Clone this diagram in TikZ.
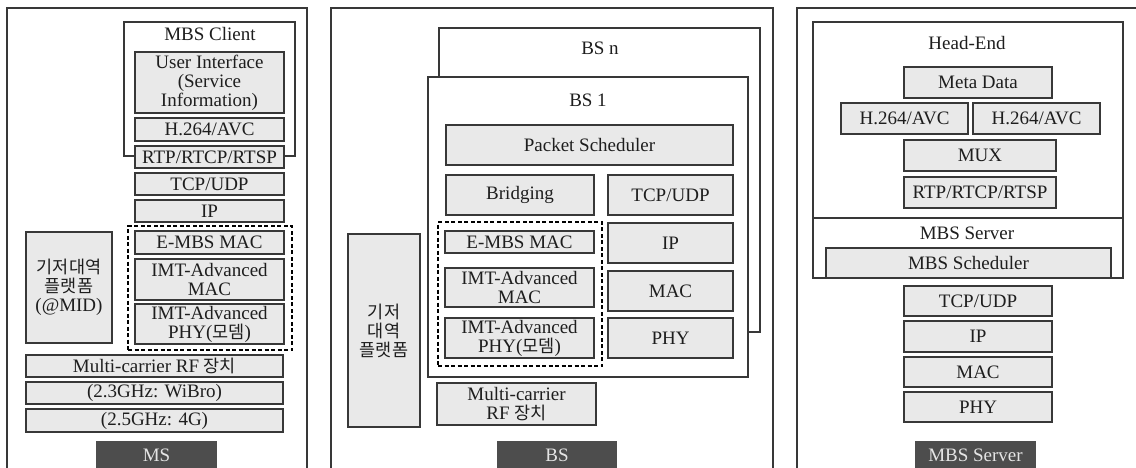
\documentclass[tikz,border=0pt]{standalone}
\usepackage{fontspec}
\setmainfont{Liberation Serif}
\newfontfamily\kr[Scale=0.92]{Noto Sans CJK KR}
\definecolor{cellfill}{HTML}{E9E9E9}
\definecolor{edge}{HTML}{383838}
\definecolor{tagfill}{HTML}{4D4D4D}
\definecolor{tagtext}{HTML}{E4E4E4}
\definecolor{ink}{HTML}{1E1E1E}
% a box given by its two corners (x1,y1) (x2,y2), in pixel units
\newcommand\cell[7][]{\node[cellbox,#1,minimum width={(#5)-(#3)},minimum height={(#6)-(#4)}] (#2) at ({((#3)+(#5))/2},{((#4)+(#6))/2}) {#7};}
\begin{document}
\begin{tikzpicture}[x=1pt,y=-1pt,
  every node/.style={font=\fontsize{19}{19}\selectfont,text=ink},
  cellbox/.style={draw=edge,fill=cellfill,line width=1.2pt,inner sep=0pt,align=center},
  framebox/.style={draw=edge,fill=white,line width=1.2pt,inner sep=0pt},
  panel/.style={draw=edge,line width=1.3pt},
  group/.style={draw=black,line width=2.4pt,dash pattern=on 4pt off 2.5pt},
  tag/.style={fill=tagfill,inner sep=0pt,text=tagtext},
  title/.style={inner sep=0pt}]
\useasboundingbox (0,0) rectangle (1136,467);

% ---------------- MS ----------------
\draw[panel] (7,470) -- (7,8) -- (307,8) -- (307,470);
\cell[framebox]{client}{124}{22}{295}{156}{}
\node[title] (clientT) at (210,34) {MBS Client};
\cell{ui}{135}{52}{284}{113}{User Interface\\(Service\\Information)}
\cell{h264a}{135}{118}{284}{141}{H.264/AVC}
\cell{rtpa}{135}{146}{284}{168}{RTP/RTCP/RTSP}
\cell{tcpa}{135}{173}{284}{195}{TCP/UDP}
\cell{ipa}{135}{200}{284}{222}{IP}
\cell[group,fill=none]{grpa}{128}{226}{292}{350}{}
\cell{emaca}{135}{231}{284}{254}{E-MBS MAC}
\cell{imaca}{135}{259}{284}{300}{IMT-Advanced\\MAC}
\cell{iphya}{135}{304}{284}{344}{IMT-Advanced\\PHY({\kr 모뎀})}
\cell{basea}{26}{232}{112}{343}{{\kr 기저대역}\\{\kr 플랫폼}\\(@MID)}
\cell{rfa}{26}{355}{283}{377}{Multi-carrier RF {\kr 장치}}
\cell{wibro}{26}{382}{283}{404}{(2.3GHz: WiBro)}
\cell{fourg}{26}{409}{283}{432}{(2.5GHz: 4G)}
\cell[tag,draw=none]{tagms}{96}{441}{217}{470}{MS}

% ---------------- BS ----------------
\draw[panel] (331,470) -- (331,8) -- (773,8) -- (773,470);
\cell[framebox]{bsn}{439}{28}{760}{332}{}
\node[title] (bsnT) at (600,48) {BS n};
\cell[framebox]{bsone}{428}{77}{748}{377}{}
\node[title] (bsoneT) at (588,100) {BS 1};
\cell{psch}{446}{125}{733}{165}{Packet Scheduler}
\cell{bridge}{446}{175}{594}{215}{Bridging}
\cell{tcpb}{608}{175}{733}{215}{TCP/UDP}
\cell[group,fill=none]{grpb}{438}{222}{602}{366}{}
\cell{emacb}{445}{231}{594}{253}{E-MBS MAC}
\cell{imacb}{445}{268}{594}{307}{IMT-Advanced\\MAC}
\cell{iphyb}{445}{318}{594}{358}{IMT-Advanced\\PHY({\kr 모뎀})}
\cell{ipb}{608}{223}{733}{263}{IP}
\cell{macb}{608}{271}{733}{311}{MAC}
\cell{phyb}{608}{318}{733}{358}{PHY}
\cell{baseb}{348}{234}{420}{427}{{\kr 기저}\\{\kr 대역}\\{\kr 플랫폼}}
\cell{rfb}{437}{383}{596}{425}{Multi-carrier\\RF {\kr 장치}}
\cell[tag,draw=none]{tagbs}{497}{441}{617}{470}{BS}

% ---------------- MBS Server ----------------
\draw[panel] (797,470) -- (797,8) -- (1140,8);
\cell[framebox]{headend}{813}{22}{1123}{278}{}
\draw[edge,line width=1.2pt] (headend.west |- 0,218) -- (headend.east |- 0,218);
\node[title] (headT) at (967,43) {Head-End};
\cell{meta}{904}{67}{1052}{98}{Meta Data}
\cell{h264b}{841}{103}{968}{134}{H.264/AVC}
\cell{h264c}{973}{103}{1100}{134}{H.264/AVC}
\cell{mux}{904}{140}{1056}{171}{MUX}
\cell{rtpc}{904}{177}{1056}{208}{RTP/RTCP/RTSP}
\node[title] (srvT) at (967,233) {MBS Server};
\cell{msch}{826}{248}{1111}{278}{MBS Scheduler}
\cell{tcpc}{904}{286}{1052}{316}{TCP/UDP}
\cell{ipc}{904}{321}{1052}{352}{IP}
\cell{macc}{904}{357}{1052}{387}{MAC}
\cell{phyc}{904}{392}{1052}{422}{PHY}
\cell[tag,draw=none]{tagsrv}{915}{441}{1036}{470}{MBS Server}
\end{tikzpicture}
\end{document}
